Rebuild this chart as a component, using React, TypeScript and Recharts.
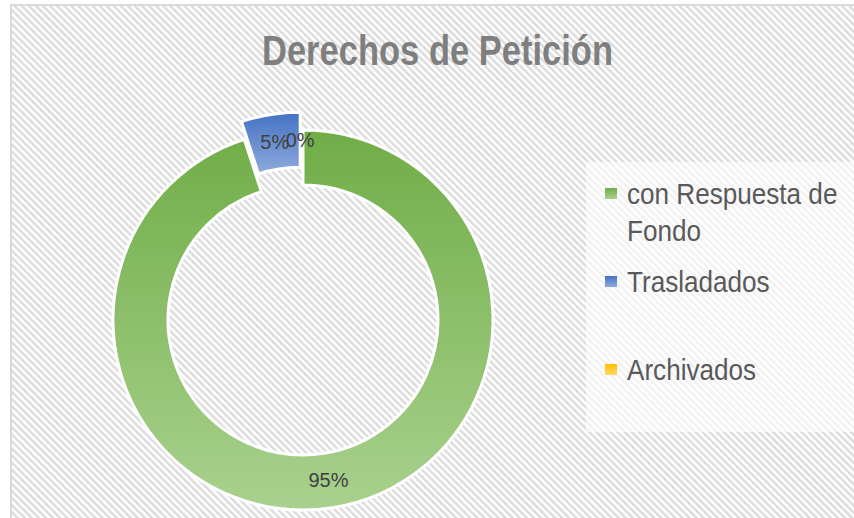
import { PieChart, Pie, Cell, Legend } from "recharts";

const categories = ["con Respuesta de Fondo", "Trasladados", "Archivados"];
const values = [95, 5, 0];
const percentLabels = ["95%", "5%", "0%"];
const explodedSlices = [false, true, true];

const gradTop = ["#70ad47", "#4472c4", "#ffc000"];
const gradBottom = ["#a9d18e", "#8faadc", "#ffd966"];

const data = categories.map((name, i) => ({ name, value: values[i] }));

const FONT = "'Liberation Sans', Arial, sans-serif";
const RADIAN = Math.PI / 180;
const CX = 303;
const CY = 320;
const INNER = 135;
const OUTER = 190;
const EXPLODE = 18;

// explode direction = middle of the exploded slices
const total = values.reduce((a, b) => a + b, 0);
const firstExploded = explodedSlices.indexOf(true);
const before = values.slice(0, firstExploded).reduce((a, b) => a + b, 0);
const explodedSum = values.filter((_, i) => explodedSlices[i]).reduce((a, b) => a + b, 0);
const explodeMid = 90 - (360 * (before + explodedSum / 2)) / total;
const DX = EXPLODE * Math.cos(explodeMid * RADIAN);
const DY = -EXPLODE * Math.sin(explodeMid * RADIAN);

function makeLabel(exploded: boolean) {
  return (props: any) => {
    const { cx, cy, midAngle, innerRadius, outerRadius, index } = props;
    if (explodedSlices[index] !== exploded) return null;
    const r = (innerRadius + outerRadius) / 2;
    const x = cx + r * Math.cos(-midAngle * RADIAN);
    const y = cy + r * Math.sin(-midAngle * RADIAN);
    return (
      <text
        x={x}
        y={y}
        textAnchor="middle"
        dominantBaseline="central"
        fill="#404040"
        fontSize={20}
        fontFamily={FONT}
      >
        {percentLabels[index]}
      </text>
    );
  };
}

function LegendContent() {
  return (
    <div>
      {categories.map((name, i) => (
        <div key={name} style={{ position: "relative", height: 88 }}>
          <div
            style={{
              position: "absolute",
              left: 5,
              top: 13,
              width: 12,
              height: 11,
              background: `linear-gradient(${gradTop[i]}, ${gradBottom[i]})`,
            }}
          />
          <div
            style={{
              position: "absolute",
              left: 27,
              top: 0,
              width: 252,
              fontSize: 30,
              lineHeight: "37px",
              color: "#595959",
              fontFamily: FONT,
              transform: "scaleX(0.87)",
              transformOrigin: "0 0",
            }}
          >
            {name}
          </div>
        </div>
      ))}
    </div>
  );
}

export default function App() {
  return (
    <div style={{ position: "absolute", left: 0, top: 0, width: 854, height: 518, overflow: "hidden", background: "#fff" }}>
      <svg width={854} height={518} style={{ position: "absolute", left: 0, top: 0 }}>
        <defs>
          <pattern id="hatch" width="5" height="5" patternUnits="userSpaceOnUse" patternTransform="rotate(-45)">
            <rect width="5" height="5" fill="#ffffff" />
            <rect width="2.5" height="5" fill="#dcdcdc" />
          </pattern>
        </defs>
        <rect x={11} y={5} width={860} height={530} fill="url(#hatch)" stroke="#d9d9d9" strokeWidth={2} />
        <rect x={586} y={162} width={268} height={270} fill="#ffffff" opacity={0.6} />
        <text
          x={262}
          y={65}
          fill="#7f7f7f"
          fontSize={42}
          fontWeight="bold"
          fontFamily={FONT}
          textLength={351}
          lengthAdjust="spacingAndGlyphs"
        >
          Derechos de Petición
        </text>
      </svg>
      <div style={{ position: "absolute", left: 0, top: 0 }}>
        <PieChart width={854} height={518} margin={{ top: 0, right: 0, bottom: 0, left: 0 }}>
          <defs>
            {categories.map((_, i) => (
              <linearGradient key={i} id={`grad${i}`} x1="0" y1="0" x2="0" y2="1">
                <stop offset="0%" stopColor={gradTop[i]} />
                <stop offset="100%" stopColor={gradBottom[i]} />
              </linearGradient>
            ))}
          </defs>
          <Pie
            data={data}
            dataKey="value"
            nameKey="name"
            cx={CX}
            cy={CY}
            innerRadius={INNER}
            outerRadius={OUTER}
            startAngle={90}
            endAngle={-270}
            stroke="#ffffff"
            strokeWidth={3}
            label={makeLabel(false)}
            labelLine={false}
            isAnimationActive={false}
          >
            {data.map((_, i) => (
              <Cell
                key={i}
                fill={explodedSlices[i] ? "none" : `url(#grad${i})`}
                stroke={explodedSlices[i] ? "none" : "#ffffff"}
              />
            ))}
          </Pie>
          <Pie
            data={data}
            dataKey="value"
            nameKey="name"
            cx={CX + DX}
            cy={CY + DY}
            innerRadius={INNER}
            outerRadius={OUTER}
            startAngle={90}
            endAngle={-270}
            stroke="#ffffff"
            strokeWidth={3}
            label={makeLabel(true)}
            labelLine={false}
            legendType="none"
            isAnimationActive={false}
          >
            {data.map((_, i) => (
              <Cell
                key={i}
                fill={explodedSlices[i] ? `url(#grad${i})` : "none"}
                stroke={explodedSlices[i] ? "#ffffff" : "none"}
              />
            ))}
          </Pie>
          <Legend
            layout="vertical"
            align="right"
            verticalAlign="top"
            content={<LegendContent />}
            wrapperStyle={{ position: "absolute", left: 600, top: 175, width: 254, height: 264, right: "auto", bottom: "auto" }}
          />
        </PieChart>
      </div>
    </div>
  );
}
